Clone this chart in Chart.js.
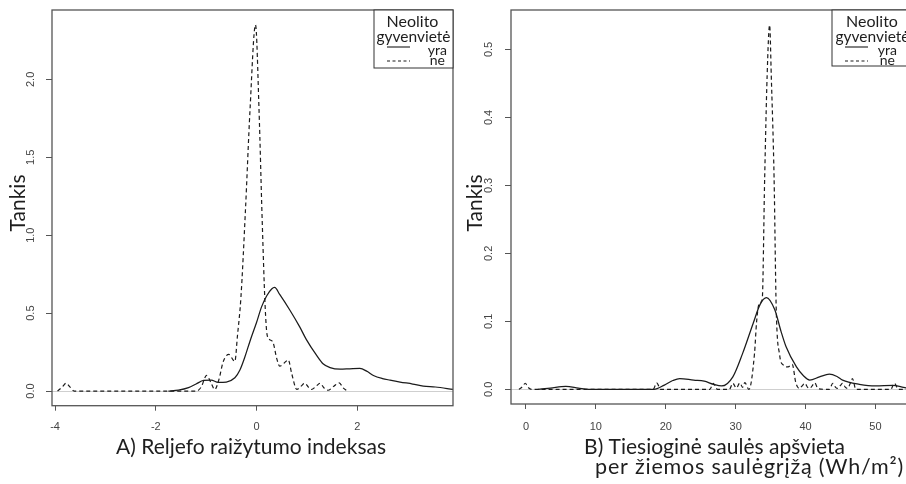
<!DOCTYPE html>
<html>
<head>
<meta charset="utf-8">
<script src="https://cdn.jsdelivr.net/npm/chart.js@4.4.1/dist/chart.umd.min.js"></script>
<style>
  html, body { margin: 0; padding: 0; background: #fff; overflow: hidden; }
  #wrap { position: relative; width: 906px; height: 484px; overflow: hidden; }
  #chartA { position: absolute; left: 0; top: 0; }
  #chartB { position: absolute; left: 455px; top: 0; }
</style>
</head>
<body>
<div id="wrap">
  <canvas id="chartA" width="460" height="484"></canvas>
  <canvas id="chartB" width="458" height="484"></canvas>
</div>
<script>
// A) relief ruggedness index – density of sites ("yra") vs. no sites ("ne")
const xA_yra = [-1.75, -1.55, -1.35, -1.2, -1.05, -0.9, -0.76, -0.6, -0.43, -0.33, -0.23, -0.13, 0, 0.1, 0.2, 0.3, 0.36, 0.46, 0.66, 0.86, 0.99, 1.19, 1.32, 1.46, 1.66, 1.85, 2.05, 2.2, 2.32, 2.5, 2.65, 2.85, 3.1, 3.31, 3.55, 3.9];
const yA_yra = [0, 0.006, 0.022, 0.045, 0.068, 0.07, 0.055, 0.058, 0.085, 0.135, 0.22, 0.32, 0.44, 0.54, 0.61, 0.655, 0.665, 0.62, 0.52, 0.41, 0.33, 0.23, 0.175, 0.15, 0.14, 0.143, 0.146, 0.125, 0.1, 0.08, 0.07, 0.058, 0.045, 0.032, 0.026, 0.011];
const xA_ne = [-3.95, -3.86, -3.78, -3.7, -3.62, -1.2, -1.1, -0.99, -0.9, -0.83, -0.75, -0.66, -0.55, -0.43, -0.38, -0.31, -0.22, -0.13, -0.02, 0.05, 0.11, 0.17, 0.21, 0.26, 0.33, 0.4, 0.46, 0.55, 0.63, 0.7, 0.8, 0.88, 0.96, 1.03, 1.09, 1.18, 1.26, 1.34, 1.42, 1.53, 1.64, 1.72, 1.8];
const yA_ne = [0, 0.025, 0.05, 0.025, 0, 0, 0.025, 0.1, 0.05, 0.01, 0.07, 0.19, 0.235, 0.19, 0.35, 0.6, 1.16, 1.8, 2.35, 1.8, 1.12, 0.55, 0.36, 0.33, 0.31, 0.21, 0.16, 0.18, 0.2, 0.11, 0.01, 0.03, 0.05, 0.025, 0.01, 0.03, 0.05, 0.02, 0.005, 0.03, 0.053, 0.02, 0];

// B) direct solar irradiation at winter solstice (Wh/m2)
const xB_yra = [1.7, 3.5, 5.7, 7.5, 9, 18.3, 19.8, 21, 22, 24, 25.5, 26.8, 28, 29.6, 31, 32.5, 33.5, 34.4, 35.6, 36.5, 37.2, 38.7, 39.7, 40.6, 42, 43.4, 44.5, 45.3, 47.7, 50, 52.5, 54, 54.8];
const yB_yra = [0, 0.002, 0.0045, 0.002, 0, 0, 0.0063, 0.013, 0.016, 0.0135, 0.012, 0.0075, 0.005, 0.0185, 0.053, 0.097, 0.125, 0.135, 0.117, 0.085, 0.063, 0.033, 0.02, 0.0137, 0.0185, 0.0225, 0.019, 0.0137, 0.0075, 0.005, 0.006, 0.003, 0.001];
const xB_ne = [-1, -0.5, -0.1, 0.3, 0.8, 18.2, 18.7, 19.3, 26.3, 26.8, 27.4, 29.1, 29.6, 30.1, 30.6, 31.0, 31.3, 31.9, 32.7, 33.0, 33.4, 33.8, 34.15, 34.5, 34.86, 35.1, 35.5, 35.8, 36.3, 36.8, 37.5, 38.1, 38.6, 39.1, 39.5, 39.9, 40.3, 40.6, 41.0, 41.3, 41.8, 43.4, 43.9, 44.3, 44.6, 45.0, 45.3, 45.7, 46.0, 46.4, 46.7, 47.2, 52.2, 52.7, 53.3, 54.8];
const yB_ne = [0, 0.004, 0.009, 0.003, 0, 0, 0.0095, 0, 0, 0.009, 0, 0, 0.009, 0.002, 0.0095, 0.003, 0.01, 0, 0.053, 0.1, 0.127, 0.132, 0.31, 0.46, 0.536, 0.46, 0.31, 0.12, 0.05, 0.036, 0.033, 0.037, 0.01, 0.0015, 0.005, 0.009, 0.003, 0.0015, 0.006, 0.0097, 0.001, 0, 0.009, 0.003, 0.0015, 0.006, 0.009, 0.003, 0.0015, 0.009, 0.016, 0, 0, 0.009, 0, 0];

// axis ticks
const xTicksA = [-4, -2, 0, 2];
const yTicksA = [0, 0.5, 1, 1.5, 2];
const yLabelsA = ["0.0", "0.5", "1.0", "1.5", "2.0"];
const xTicksB = [0, 10, 20, 30, 40, 50];
const yTicksB = [0, 0.1, 0.2, 0.3, 0.4, 0.5];
const yLabelsB = ["0.0", "0.1", "0.2", "0.3", "0.4", "0.5"];

const yTitle = "Tankis";
const legendTitle = ["Neolito", "gyvenvietė"];
const seriesNames = ["yra", "ne"];
const captionA = ["A) Reljefo raižytumo indeksas"];
const captionB = ["B) Tiesioginė saulės apšvieta", "per žiemos saulėgrįžą (Wh/m²)"];

const LINE = "#1b1b1b";
const TEXT = "#1e1e1e";
const SANS = 'Lato, "Open Sans", sans-serif';
const TICK_FONT = '11px "Liberation Sans", Arial, sans-serif';

const toPoints = (xs, ys) => xs.map((x, i) => ({ x, y: ys[i] }));

// box, rotated y labels, legend and captions, drawn the way base R does them
const framePlugin = {
  id: "frame",
  afterDraw(chart, args, o) {
    const { ctx, chartArea: a } = chart;
    ctx.save();

    ctx.strokeStyle = "#555";
    ctx.lineWidth = 1.3;
    ctx.strokeRect(a.left, a.top, a.right - a.left, a.bottom - a.top);

    const ys = chart.scales.y;
    ctx.font = TICK_FONT;
    ctx.fillStyle = "#444";
    ctx.textAlign = "center";
    ctx.textBaseline = "middle";
    o.yTicks.forEach((v, i) => {
      ctx.save();
      ctx.translate(o.yLabelX, ys.getPixelForValue(v));
      ctx.rotate(-Math.PI / 2);
      ctx.fillText(o.yLabels[i], 0, 0);
      ctx.restore();
    });

    ctx.fillStyle = TEXT;
    ctx.font = "21px " + SANS;
    ctx.save();
    ctx.translate(o.titleX, o.titleY);
    ctx.rotate(-Math.PI / 2);
    ctx.fillText(yTitle, 0, 0);
    ctx.restore();

    o.captions.forEach((c) => {
      ctx.font = (c.size || 21) + "px " + SANS;
      ctx.letterSpacing = (c.spacing || 0) + "px";
      ctx.fillText(c.text, c.x, c.y);
    });
    ctx.letterSpacing = "0px";

    const lg = o.legend;
    const L = lg.left;
    ctx.fillStyle = "#fff";
    ctx.fillRect(L, a.top, lg.width, lg.height);
    ctx.strokeStyle = "#333";
    ctx.lineWidth = 1;
    ctx.strokeRect(L, a.top, lg.width, lg.height);

    ctx.fillStyle = TEXT;
    ctx.textBaseline = "alphabetic";
    ctx.font = "16px " + SANS;
    ctx.fillText(legendTitle[0], L + lg.titleX[0], lg.titleY[0]);
    ctx.font = "15.5px " + SANS;
    ctx.fillText(legendTitle[1], L + lg.titleX[1], lg.titleY[1]);

    ctx.font = "14px " + SANS;
    ctx.textAlign = "right";
    ctx.strokeStyle = LINE;
    ctx.lineWidth = 1.1;
    seriesNames.forEach((name, i) => {
      ctx.setLineDash(i === 0 ? [] : [3, 2.5]);
      ctx.beginPath();
      ctx.moveTo(L + lg.sample[0], lg.sampleY[i]);
      ctx.lineTo(L + lg.sample[1], lg.sampleY[i]);
      ctx.stroke();
      ctx.fillText(name, L + lg.labelEnd[i], lg.labelY[i]);
    });
    ctx.restore();
  }
};

function densityChart(id, p) {
  return new Chart(document.getElementById(id), {
    type: "line",
    data: {
      datasets: [
        { label: seriesNames[0], data: toPoints(p.yraX, p.yraY), borderColor: LINE, borderWidth: 1.25 },
        { label: seriesNames[1], data: toPoints(p.neX, p.neY), borderColor: LINE, borderWidth: 1.2, borderDash: [4, 3] }
      ]
    },
    options: {
      responsive: false,
      animation: false,
      elements: {
        point: { radius: 0 },
        line: { cubicInterpolationMode: "monotone", fill: false }
      },
      layout: { padding: { top: 10, right: p.padRight, left: 0, bottom: 0 } },
      plugins: {
        legend: { display: false },
        tooltip: { enabled: false },
        frame: p.frame
      },
      scales: {
        x: {
          type: "linear",
          min: p.xMin,
          max: p.xMax,
          afterBuildTicks: (s) => { s.ticks = p.xTicks.map((v) => ({ value: v })); },
          afterFit: (s) => { s.height = p.xAxisHeight; },
          ticks: { callback: (v) => String(v), maxRotation: 0, autoSkip: false, padding: p.xLabelPad, color: "#444", font: { family: '"Liberation Sans", Arial', size: 11 } },
          grid: { drawOnChartArea: false, drawTicks: true, tickLength: 5, color: "#555" },
          border: { display: false }
        },
        y: {
          type: "linear",
          min: p.yMin,
          max: p.yMax,
          afterBuildTicks: (s) => { s.ticks = p.frame.yTicks.map((v) => ({ value: v })); },
          afterFit: (s) => { s.width = p.yAxisWidth; },
          ticks: { display: false },
          grid: {
            drawTicks: true,
            tickLength: 6,
            tickColor: "#555",
            color: (c) => (c.tick && c.tick.value === 0 ? "#cfcfcf" : "rgba(0,0,0,0)")
          },
          border: { display: false }
        }
      }
    },
    plugins: [framePlugin]
  });
}

densityChart("chartA", {
  yraX: xA_yra, yraY: yA_yra, neX: xA_ne, neY: yA_ne,
  xMin: -4.06, xMax: 3.9, yMin: -0.094, yMax: 2.445,
  xTicks: xTicksA, padRight: 7, yAxisWidth: 52, xAxisHeight: 78.3, xLabelPad: 9.5,
  frame: {
    yTicks: yTicksA, yLabels: yLabelsA, yLabelX: 31,
    titleX: 18, titleY: 203,
    captions: [{ text: captionA[0], x: 251, y: 447 }],
    legend: {
      left: 374, width: 79, height: 58,
      titleX: [38.5, 39.5], titleY: [27, 42],
      sample: [13, 36], sampleY: [47, 61],
      labelEnd: [73, 71], labelY: [55, 65]
    }
  }
});

densityChart("chartB", {
  yraX: xB_yra, yraY: yB_yra, neX: xB_ne, neY: yB_ne,
  xMin: -2.14, xMax: 54.8, yMin: -0.0215, yMax: 0.558,
  xTicks: xTicksB, padRight: 4, yAxisWidth: 56, xAxisHeight: 80, xLabelPad: 11.4,
  frame: {
    yTicks: yTicksB, yLabels: yLabelsB, yLabelX: 34,
    titleX: 20, titleY: 203,
    captions: [
      { text: captionB[0], x: 259.5, y: 447 },
      { text: captionB[1], x: 294.5, y: 467, size: 21.5, spacing: 0.8 }
    ],
    legend: {
      left: 377, width: 79, height: 56,
      titleX: [40, 40.5], titleY: [27, 42],
      sample: [13, 36], sampleY: [47, 61],
      labelEnd: [65, 63], labelY: [55, 65]
    }
  }
});
</script>
</body>
</html>
